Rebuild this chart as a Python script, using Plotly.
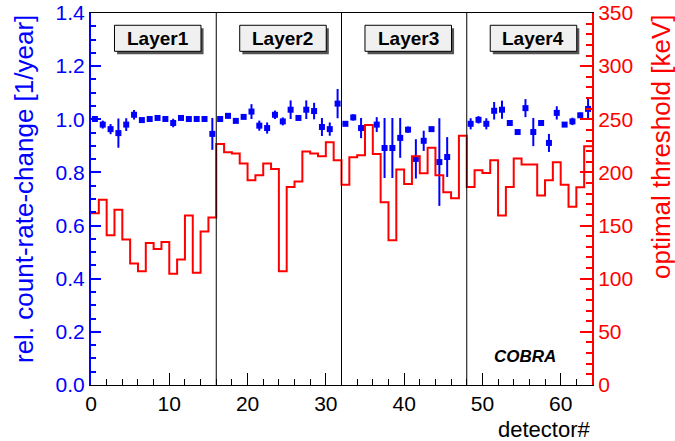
import plotly.graph_objects as go

# ---------------- data ----------------
detectors = list(range(64))
# relative count-rate-change [1/year] per detector (None = no point)
rate_change = [1.001, 0.980, 0.963, 0.948, 0.980, 1.017, 0.997, 1.001, 1.005, 1.001, 0.986, 1.005, 1.001, 1.001, 1.001, 0.945,
               1.001, 1.013, 0.994, 1.009, 1.029, 0.976, 0.967, 1.017, 0.992, 1.036, 1.005, 1.036, 1.031, 0.971, 0.963, 1.059,
               0.983, 1.007, 0.967, None, 0.980, 0.892, 0.892, 0.930, 0.961, 0.851, 0.919, 0.963, 0.839, 0.858, None, None,
               0.983, 0.998, 0.983, 1.032, 1.036, 0.986, 0.952, 1.042, 0.952, 0.986, 0.911, 1.024, 0.980, 0.992, 1.015, 1.039]
rate_error = [0.004, 0.015, 0.019, 0.055, 0.024, 0.018, 0.004, 0.004, 0.004, 0.004, 0.016, 0.004, 0.004, 0.004, 0.004, 0.060,
              0.004, 0.010, 0.008, 0.006, 0.028, 0.019, 0.021, 0.016, 0.015, 0.035, 0.004, 0.035, 0.031, 0.034, 0.025, 0.055,
              0.006, 0.012, 0.038, 0.0, 0.028, 0.113, 0.113, 0.075, 0.012, 0.074, 0.038, 0.004, 0.165, 0.075, 0.0, 0.0,
              0.021, 0.014, 0.021, 0.033, 0.034, 0.004, 0.004, 0.034, 0.053, 0.004, 0.034, 0.025, 0.004, 0.014, 0.010, 0.040]
# optimal threshold [keV] per detector
threshold = [161.5, 174.4, 140.9, 165.0, 136.8, 114.4, 107.0, 133.7, 128.0, 134.5, 104.6, 118.0, 159.4, 105.5, 144.4, 157.5,
             226.8, 219.0, 217.7, 208.3, 192.6, 197.3, 208.3, 203.3, 107.0, 186.4, 191.4, 219.6, 217.7, 215.2, 228.4, 211.4,
             188.3, 214.2, 216.1, 244.6, 217.4, 171.9, 136.2, 202.7, 189.2, 215.2, 199.2, 223.3, 197.3, 181.3, 175.7, 234.6,
             186.4, 202.0, 199.5, 211.4, 159.4, 186.4, 213.0, 207.4, 207.4, 178.2, 192.6, 209.6, 188.3, 167.6, 186.0, 224.6]
layer_names = ["Layer1", "Layer2", "Layer3", "Layer4"]
layer_size = 16
x_ticks = [0, 10, 20, 30, 40, 50, 60]
left_ticks = [0.0, 0.2, 0.4, 0.6, 0.8, 1.0, 1.2, 1.4]
right_ticks = [0, 50, 100, 150, 200, 250, 300, 350]

FONT = "Liberation Sans, Arial, Helvetica, sans-serif"
BLUE = "#0000ff"
RED = "#ff0000"

W, H = 675, 441
ML, MR, MT, MB = 91, 83, 13, 56
PW = W - ML - MR
PH = H - MT - MB

fig = go.Figure()

# red step histogram (right axis)
hist_x = detectors + [len(detectors)]
hist_y = threshold + [threshold[-1]]
fig.add_trace(go.Scatter(x=hist_x, y=hist_y, mode="lines", line=dict(color=RED, width=2, shape="hv"),
                         yaxis="y2", showlegend=False, hoverinfo="skip"))

# blue points with error bars (left axis)
fig.add_trace(go.Scatter(x=[d + 0.5 for d in detectors], y=rate_change, mode="markers",
                         marker=dict(symbol="square", size=6, color=BLUE),
                         error_y=dict(type="data", array=rate_error, color=BLUE, thickness=2, width=0),
                         showlegend=False))

shapes = []
annotations = []
# layer separators
for k in range(1, len(layer_names)):
    shapes.append(dict(type="line", xref="x", yref="paper", x0=k * layer_size, x1=k * layer_size, y0=0, y1=1,
                       line=dict(color="black", width=1)))
# layer label boxes
for k, name in enumerate(layer_names):
    bx0 = k * layer_size + 3.0
    bx1 = k * layer_size + 14.05
    by0, by1 = 0.897, 0.967
    shapes.append(dict(type="rect", xref="x", yref="paper", x0=bx0 + 0.33, x1=bx1 + 0.33, y0=by0 - 0.008, y1=by1 - 0.008,
                       line=dict(width=0), fillcolor="#555555"))
    shapes.append(dict(type="rect", xref="x", yref="paper", x0=bx0, x1=bx1, y0=by0, y1=by1,
                       line=dict(color="black", width=1), fillcolor="#f0f0f0"))
    annotations.append(dict(x=(bx0 + bx1) / 2, y=(by0 + by1) / 2, xref="x", yref="paper", text="<b>" + name + "</b>",
                            showarrow=False, font=dict(family=FONT, size=19, color="black"),
                            xanchor="center", yanchor="middle"))

annotations.append(dict(x=55.4, y=0.077, xref="x", yref="paper", text="<b><i>COBRA</i></b>", showarrow=False,
                        font=dict(family=FONT, size=17, color="black"), xanchor="center", yanchor="middle"))
# axis titles
annotations.append(dict(x=(24 - ML) / PW, y=1.0, xref="paper", yref="paper", xanchor="center", yanchor="top",
                        text="rel. count-rate-change [1/year]", textangle=-90, showarrow=False,
                        font=dict(family=FONT, size=26, color=BLUE)))
annotations.append(dict(x=(661 - ML) / PW, y=1.0, xref="paper", yref="paper", xanchor="center", yanchor="top",
                        text="optimal threshold [keV]", textangle=-90, showarrow=False,
                        font=dict(family=FONT, size=26, color=RED)))
annotations.append(dict(x=1.0, y=-0.081, xref="paper", yref="paper", xanchor="right", yanchor="top",
                        text="detector#", showarrow=False, font=dict(family=FONT, size=22, color="black")))

fig.update_layout(
    width=W, height=H,
    margin=dict(l=ML, r=MR, t=MT, b=MB, pad=0),
    paper_bgcolor="white", plot_bgcolor="white",
    font=dict(family=FONT),
    shapes=shapes, annotations=annotations,
    xaxis=dict(range=[0, 64], tickvals=x_ticks, ticks="inside", ticklen=12, tickcolor="black",
               showline=True, linecolor="black", linewidth=1, mirror=True, showgrid=False, zeroline=False,
               tickfont=dict(family=FONT, size=21, color="black"), automargin=False,
               minor=dict(dtick=2, ticks="inside", ticklen=6, tickcolor="black")),
    yaxis=dict(range=[0, 1.4], tickvals=left_ticks, ticktext=["%.1f" % v for v in left_ticks],
               ticks="inside", ticklen=10, tickcolor=BLUE, tickwidth=1.5,
               showline=True, linecolor=BLUE, linewidth=2, showgrid=False, zeroline=False,
               tickfont=dict(family=FONT, size=21, color=BLUE), automargin=False,
               minor=dict(dtick=0.05, ticks="inside", ticklen=5, tickcolor=BLUE, tickwidth=1.5)),
    yaxis2=dict(range=[0, 350], tickvals=right_ticks, overlaying="y", side="right", anchor="x",
                ticks="inside", ticklen=12, tickcolor=RED, tickwidth=1.5,
                showline=True, linecolor=RED, linewidth=2, showgrid=False, zeroline=False,
                tickfont=dict(family=FONT, size=21, color=RED), automargin=False,
                minor=dict(dtick=10, ticks="inside", ticklen=6, tickcolor=RED, tickwidth=1.5)),
)

fig.write_html("out.html", config={"displayModeBar": False},
               post_script="document.body.style.margin='0';document.body.style.overflow='hidden';")
